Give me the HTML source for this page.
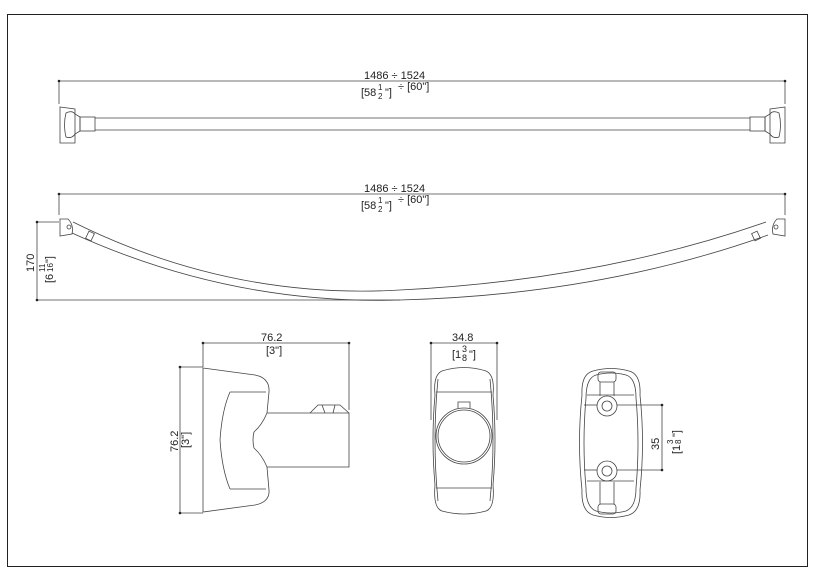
<!DOCTYPE html>
<html><head><meta charset="utf-8"><style>
html,body{margin:0;padding:0;background:#fff;}
svg{display:block;font-family:"Liberation Sans",sans-serif;}
text{fill:#222;}
</style></head><body>
<svg width="818" height="581" viewBox="0 0 818 581" xmlns="http://www.w3.org/2000/svg">
<rect x="7.5" y="14.5" width="800" height="552" fill="none" stroke="#222" stroke-width="1"/>
<g stroke="#444" stroke-width="0.8" fill="none">
<line x1="59" y1="81" x2="785" y2="81"/>
<line x1="59" y1="81" x2="59" y2="104"/><line x1="785" y1="81" x2="785" y2="104"/>
<line x1="95" y1="118" x2="750" y2="118"/><line x1="95" y1="130" x2="750" y2="130"/>
<rect x="80" y="117" width="15" height="14"/>
<rect x="750" y="117" width="15" height="14"/>
<path d="M60 107 L75 109 L75 143 L60 143 Z"/>
<path d="M66 113 Q72 110 75 114 L80 117 L80 131 L75 134 Q72 139 66 137 Q63 125 66 113Z"/>
<path d="M785 107 L770 109 L770 143 L785 143 Z"/>
<path d="M779 113 Q773 110 770 114 L765 117 L765 131 L770 134 Q773 139 779 137 Q782 125 779 113Z"/>
<line x1="59" y1="194" x2="785" y2="194"/>
<line x1="59" y1="194" x2="59" y2="215"/><line x1="785" y1="194" x2="785" y2="215"/>
<path d="M73 222 Q230 300 400 290 Q600 280 766 222"/>
<path d="M72 233 Q230 305 400 300 Q600 295 768 235"/>
<path d="M60 219 L68 219 Q74 225 72 234 L60 236 Z"/>
<circle cx="69" cy="227" r="2"/>
<path d="M785 219 L777 219 Q771 225 773 234 L785 236 Z"/>
<circle cx="776" cy="227" r="2"/>
<rect x="87" y="232" width="6" height="8" transform="rotate(25 90 236)"/>
<rect x="753" y="232" width="6" height="8" transform="rotate(-25 756 236)"/>
<line x1="36" y1="222" x2="59" y2="222"/>
<line x1="36" y1="300" x2="400" y2="300"/>
<line x1="37" y1="222" x2="37" y2="300"/>
<line x1="203" y1="343" x2="349" y2="343"/>
<line x1="203" y1="343" x2="203" y2="367"/><line x1="349" y1="343" x2="349" y2="410"/>
<line x1="180" y1="367" x2="203" y2="367"/><line x1="180" y1="513" x2="203" y2="513"/>
<line x1="180" y1="367" x2="180" y2="513"/>
<path d="M203 368 L255 375 Q270 378 269 392 L267 413 L349 413 L349 467 L267 467 L269 490 Q270 502 255 505 L203 512 Z"/>
<path d="M230 392 L266 392 M230 489 L266 489"/>
<path d="M230 392 Q222 410 220 440 Q222 470 230 489"/>
<path d="M267 413 Q262 425 254 432 Q252 440 254 448 Q262 455 267 467"/>
<path d="M310 413 L318 405 L340 405 L349 413 M322 405 L325 413 M335 405 L333 413"/>
<line x1="431" y1="343" x2="497" y2="343"/>
<line x1="431" y1="343" x2="431" y2="420"/><line x1="497" y1="343" x2="497" y2="420"/>
<path d="M442 371 Q464 364 486 371 Q495 375 493 395 Q497 440 493 485 Q495 508 486 511 Q464 517 442 511 Q433 508 435 485 Q431 440 435 395 Q433 375 442 371Z"/>
<path d="M438 379 Q432 440 438 501 M490 379 Q496 440 490 501"/>
<line x1="436" y1="392" x2="492" y2="392"/><line x1="436" y1="488" x2="492" y2="488"/>
<circle cx="464" cy="436" r="28"/><circle cx="464" cy="436" r="26"/>
<path d="M458 408 L458 402 L470 402 L470 408"/>
<path d="M593 371 Q611 366 629 371 Q641 374 640 395 Q645 443 640 490 Q641 511 629 515 Q611 520 593 515 Q581 511 582 490 Q577 443 582 395 Q581 374 593 371Z"/>
<path d="M596 375 Q611 371 626 375 Q636 378 636 398 Q640 443 636 488 Q636 507 626 511 Q611 515 596 511 Q586 507 586 488 Q582 443 586 398 Q586 378 596 375Z"/>
<rect x="598" y="372" width="18" height="10" rx="3"/>
<rect x="598" y="504" width="18" height="10" rx="3"/>
<path d="M600 382 L600 396 M614 382 L614 396 M600 482 L600 504 M614 482 L614 504"/>
<circle cx="607" cy="406" r="10"/><circle cx="607" cy="406" r="5"/>
<circle cx="607" cy="471" r="10"/><circle cx="607" cy="471" r="5"/>
<line x1="584" y1="405" x2="597" y2="405"/><line x1="617" y1="405" x2="662" y2="405"/>
<line x1="584" y1="470" x2="597" y2="470"/><line x1="617" y1="470" x2="662" y2="470"/>
<line x1="587" y1="395" x2="634" y2="395"/><line x1="587" y1="481" x2="634" y2="481"/>
<line x1="662" y1="405" x2="662" y2="470"/>
</g>
<g fill="#222">
<circle cx="59" cy="81" r="1.3"/><circle cx="785" cy="81" r="1.3"/>
<circle cx="59" cy="194" r="1.3"/><circle cx="785" cy="194" r="1.3"/>
<circle cx="37" cy="222" r="1.3"/><circle cx="37" cy="300" r="1.3"/>
<circle cx="203" cy="343" r="1.3"/><circle cx="349" cy="343" r="1.3"/>
<circle cx="180" cy="367" r="1.3"/><circle cx="180" cy="513" r="1.3"/>
<circle cx="431" cy="343" r="1.3"/><circle cx="497" cy="343" r="1.3"/>
<circle cx="662" cy="405" r="1.3"/><circle cx="662" cy="470" r="1.3"/>
</g>
<g font-size="11">
<text x="364" y="79">1486 ÷ 1524</text>
<text x="361" y="96">[58</text><text x="378" y="90" font-size="8">1</text><text x="378" y="99" font-size="8">2</text><text x="385" y="96">"]</text>
<text x="398" y="90">÷ [60"]</text>
<text x="364" y="192">1486 ÷ 1524</text>
<text x="361" y="209">[58</text><text x="378" y="203" font-size="8">1</text><text x="378" y="212" font-size="8">2</text><text x="385" y="209">"]</text>
<text x="398" y="203">÷ [60"]</text>
<text transform="translate(34 272) rotate(-90)">170</text>
<text transform="translate(53 283) rotate(-90)">[6</text><text transform="translate(45 272) rotate(-90)" font-size="8">11</text><text transform="translate(53 272) rotate(-90)" font-size="8">16</text><text transform="translate(53 263) rotate(-90)">"]</text>
<text x="261" y="341">76.2</text>
<text x="266" y="354">[3"]</text>
<text transform="translate(178 452) rotate(-90)">76.2</text>
<text transform="translate(189 448) rotate(-90)">[3"]</text>
<text x="452" y="341">34.8</text>
<text x="452" y="358">[1</text><text x="462" y="352" font-size="9">3</text><text x="462" y="361" font-size="9">8</text><text x="469" y="358">"]</text>
<text transform="translate(659 450) rotate(-90)">35</text>
<text transform="translate(680 454) rotate(-90)">[1</text><text transform="translate(673 444) rotate(-90)" font-size="8">3</text><text transform="translate(681 444) rotate(-90)" font-size="8">8</text><text transform="translate(680 437) rotate(-90)">"]</text>
</g>
</svg>
</body></html>
